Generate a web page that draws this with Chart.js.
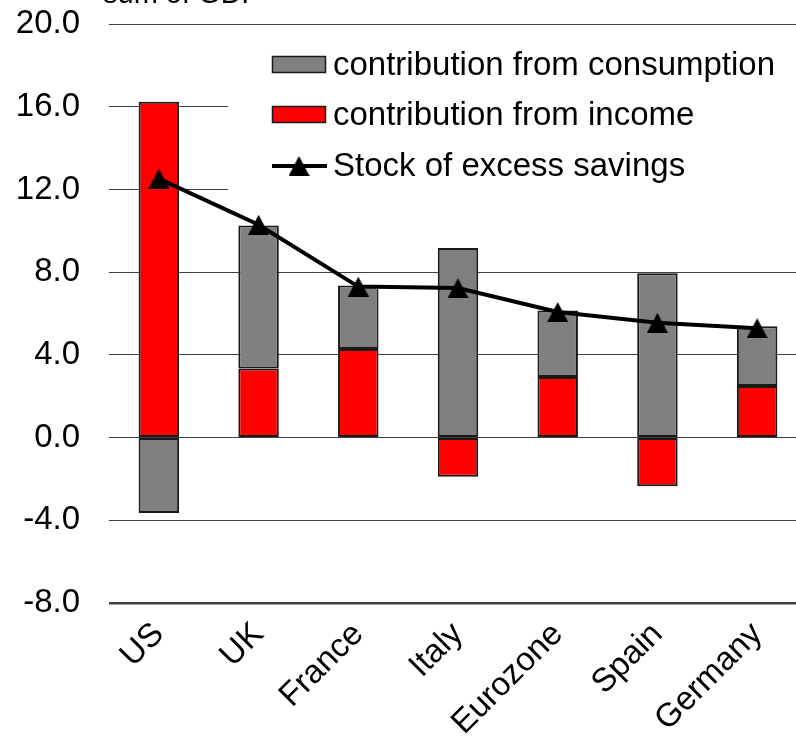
<!DOCTYPE html>
<html>
<head>
<meta charset="utf-8">
<script src="https://cdn.jsdelivr.net/npm/chart.js@4.4.1/dist/chart.umd.min.js"></script>
<style>
  html, body { margin: 0; padding: 0; background: #fff; overflow: hidden; }
  canvas { display: block; }
</style>
</head>
<body>
<canvas id="c" width="807" height="745"></canvas>
<script>
// Excess savings by country, % of GDP
const categories = ['US', 'UK', 'France', 'Italy', 'Eurozone', 'Spain', 'Germany'];
const fromIncome = [16.24, 3.34, 4.28, -1.89, 2.93, -2.36, 2.50];
const fromConsumption = [-3.65, 6.92, 3.07, 9.17, 3.21, 7.95, 2.88];
const excessSavingsStock = [12.52, 10.29, 7.30, 7.23, 6.07, 5.55, 5.29];
const yTicks = [-8, -4, 0, 4, 8, 12, 16, 20];

const seriesNames = {
  consumption: 'contribution from consumption',
  income: 'contribution from income',
  stock: 'Stock of excess savings'
};
const unitLabel = 'sum of GDP';

const FONT = '"Liberation Sans", Arial, sans-serif';
const FONT_SIZE = 33;

// Triangle marker whose box centre sits on the data point
function makeTriangle(w, h) {
  const cv = document.createElement('canvas');
  cv.width = w; cv.height = h;
  const g = cv.getContext('2d');
  g.fillStyle = '#000';
  g.beginPath();
  g.moveTo(w / 2, 0);
  g.lineTo(w, h);
  g.lineTo(0, h);
  g.closePath();
  g.fill();
  return cv;
}
const triangle = makeTriangle(21, 20);

// Legend panel and unit label, painted over the plot
const overlay = {
  id: 'overlay',
  afterDraw(chart) {
    const ctx = chart.ctx;
    ctx.save();
    ctx.fillStyle = '#fff';
    ctx.fillRect(228, 40, 600, 158);

    ctx.font = FONT_SIZE + 'px ' + FONT;
    ctx.textBaseline = 'middle';

    const ds = chart.data.datasets;
    const rows = [
      { ds: ds[1], y: 65, kind: 'box' },
      { ds: ds[0], y: 115, kind: 'box' },
      { ds: ds[2], y: 166, kind: 'line' }
    ];
    rows.forEach(r => {
      if (r.kind === 'box') {
        ctx.fillStyle = r.ds.backgroundColor;
        ctx.fillRect(272.5, r.y - 8.5, 53, 16);
        ctx.strokeStyle = '#1a1a1a';
        ctx.lineWidth = 1.5;
        ctx.strokeRect(272.5, r.y - 8.5, 53, 16);
      } else {
        ctx.strokeStyle = '#000';
        ctx.lineWidth = 4;
        ctx.beginPath();
        ctx.moveTo(272, r.y);
        ctx.lineTo(327, r.y);
        ctx.stroke();
        ctx.drawImage(triangle, 299 - 10.5, r.y - 10);
      }
      ctx.fillStyle = '#000';
      ctx.fillText(r.ds.label, 333, r.y + 1);
    });

    ctx.font = '29px ' + FONT;
    ctx.textBaseline = 'alphabetic';
    ctx.fillText(unitLabel, 103, 3);
    ctx.restore();
  }
};

new Chart(document.getElementById('c'), {
  data: {
    labels: categories,
    datasets: [
      {
        type: 'bar',
        label: seriesNames.income,
        data: fromIncome,
        backgroundColor: '#ff0000',
        borderColor: '#1a1a1a',
        borderWidth: 2,
        borderSkipped: false,
        barPercentage: 0.406,
        categoryPercentage: 1,
        stack: 'bars',
        order: 1
      },
      {
        type: 'bar',
        label: seriesNames.consumption,
        data: fromConsumption,
        backgroundColor: '#808080',
        borderColor: '#1a1a1a',
        borderWidth: 2,
        borderSkipped: false,
        barPercentage: 0.406,
        categoryPercentage: 1,
        stack: 'bars',
        order: 1
      },
      {
        type: 'line',
        label: seriesNames.stock,
        data: excessSavingsStock,
        borderColor: '#000',
        backgroundColor: '#000',
        borderWidth: 4,
        tension: 0,
        pointStyle: triangle,
        pointRadius: 10,
        stack: 'stock',
        order: 0,
        clip: false
      }
    ]
  },
  options: {
    responsive: false,
    devicePixelRatio: 1,
    animation: false,
    layout: { autoPadding: false, padding: { top: 24, right: 0, bottom: 0, left: 0 } },
    plugins: {
      legend: { display: false },
      tooltip: { enabled: false }
    },
    scales: {
      x: {
        stacked: true,
        grid: { display: false },
        border: { display: false },
        ticks: {
          color: '#000',
          font: { size: FONT_SIZE, family: FONT },
          maxRotation: 45,
          minRotation: 45,
          padding: 4
        },
        afterFit(scale) {
          scale.height = 142;
          scale.paddingLeft = 0;
          scale.paddingRight = 0;
        }
      },
      y: {
        stacked: true,
        min: yTicks[0],
        max: yTicks[yTicks.length - 1],
        afterBuildTicks(scale) { scale.ticks = yTicks.map(v => ({ value: v })); },
        grid: {
          drawTicks: false,
          color: '#404040',
          lineWidth: c => (c.tick && c.tick.value === yTicks[0]) ? 2.5 : 1
        },
        border: { display: false },
        ticks: {
          color: '#000',
          font: { size: FONT_SIZE, family: FONT },
          padding: 29,
          callback: v => Number(v).toFixed(1)
        },
        afterFit(scale) {
          scale.width = 109;
          scale.paddingTop = 0;
          scale.paddingBottom = 0;
        }
      }
    }
  },
  plugins: [overlay]
});
</script>
</body>
</html>
